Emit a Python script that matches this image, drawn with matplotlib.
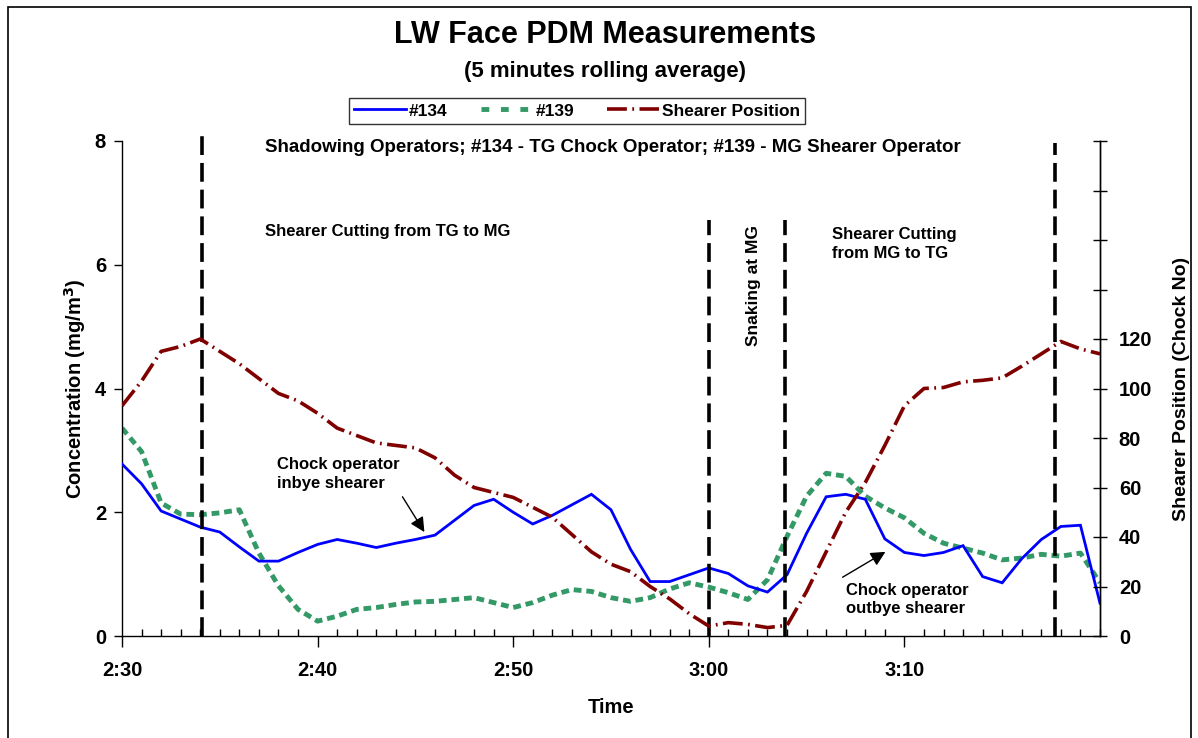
import numpy as np
import matplotlib
matplotlib.use("Agg")
import matplotlib.pyplot as plt
from matplotlib.lines import Line2D
from matplotlib.patches import Rectangle

plt.rcParams['font.family'] = ['Liberation Sans', 'DejaVu Sans']
plt.rcParams['font.weight'] = 'bold'

# minutes after 2:30
minutes = list(range(0, 51))

# PDM #134 - TG chock operator (mg/m3)
pdm_134 = [2.78, 2.46, 2.02, 1.89, 1.76, 1.68, 1.44, 1.21, 1.21, 1.35,
           1.48, 1.56, 1.50, 1.43, 1.50, 1.56, 1.63, 1.87, 2.11, 2.21,
           2.00, 1.81, 1.95, 2.12, 2.29, 2.04, 1.40, 0.88, 0.88, 0.99,
           1.10, 1.01, 0.81, 0.71, 0.99, 1.66, 2.25, 2.29, 2.21, 1.57,
           1.35, 1.30, 1.35, 1.46, 0.96, 0.86, 1.25, 1.56, 1.77, 1.79,
           0.53]

# PDM #139 - MG shearer operator (mg/m3)
pdm_139 = [3.36, 2.98, 2.15, 1.97, 1.96, 1.99, 2.04, 1.34, 0.81, 0.43,
           0.24, 0.32, 0.43, 0.46, 0.51, 0.55, 0.56, 0.59, 0.62, 0.54,
           0.46, 0.54, 0.66, 0.75, 0.72, 0.62, 0.56, 0.62, 0.76, 0.86,
           0.79, 0.70, 0.59, 0.91, 1.61, 2.26, 2.63, 2.58, 2.26, 2.07,
           1.91, 1.66, 1.50, 1.42, 1.34, 1.23, 1.26, 1.32, 1.29, 1.34,
           0.86]

# shearer position (chock no)
shearer = [93, 103, 115, 117, 120, 115, 110, 104, 98, 95,
           90, 84, 81, 78, 77, 76, 72, 65, 60, 58,
           56, 52, 48, 41, 34, 29, 26, 20, 15, 9,
           4, 5.4, 4.7, 3.4, 4.3, 18, 34, 50, 62, 77,
           93, 100, 100.4, 102.7, 103.3, 104.3, 109, 114, 119, 116,
           114]

# phase change markers (minutes) and how high they reach (mg/m3)
phase_times = [4.08, 30.0, 33.9, 47.7]
phase_tops = [8.15, 6.72, 6.72, 7.97]

xtick_pos = [0, 10, 20, 30, 40]
xtick_labels = ['2:30', '2:40', '2:50', '3:00', '3:10']
y2_ticks = list(range(0, 201, 20))
y2_labels = [str(v) if v <= 120 else '' for v in y2_ticks]

fig = plt.figure(figsize=(11.98, 7.38), dpi=100)
ax = fig.add_axes([122 / 1198, 102 / 738, 978 / 1198, 495 / 738])
ax2 = ax.twinx()

ax.plot(minutes, pdm_134, color='#0000ff', lw=2, solid_joinstyle='miter', zorder=3)
ax.plot(minutes, pdm_139, color='#339966', lw=3.5, dashes=(1.6, 1.0), zorder=2)
ax2.plot(minutes, shearer, color='#800000', lw=2.6, dashes=(5.5, 1.5, 0.5, 1.5), zorder=2)

for t, top in zip(phase_times, phase_tops):
    ax.plot([t, t], [0, top], color='black', lw=2.6, dashes=(5.2, 2.2),
            clip_on=False, zorder=4)

ax.set_xlim(0, 50)
ax.set_ylim(0, 8)
ax2.set_ylim(0, 200)

ax.set_xticks(xtick_pos)
ax.set_xticklabels(xtick_labels)
ax.set_xticks(minutes, minor=True)
ax.set_yticks([0, 2, 4, 6, 8])
ax.tick_params(axis='x', which='major', direction='out', length=8, width=1,
               labelsize=14.5, pad=10)
ax.tick_params(axis='x', which='minor', direction='in', length=5, width=1)
ax.tick_params(axis='y', direction='out', length=6, width=1, labelsize=14.5, pad=5.5)
for lab in ax.get_xticklabels() + ax.get_yticklabels():
    lab.set_fontweight('bold')

ax2.set_yticks(y2_ticks)
ax2.set_yticklabels(y2_labels)
ax2.tick_params(axis='y', direction='inout', length=10, width=1, labelsize=14.5, pad=8.5)
for lab in ax2.get_yticklabels():
    lab.set_fontweight('bold')

for a in (ax, ax2):
    a.spines['top'].set_visible(False)
    for s in a.spines.values():
        s.set_linewidth(1)
ax2.spines['left'].set_visible(False)
ax2.spines['bottom'].set_visible(False)

ax.set_xlabel('Time', fontsize=14.5, fontweight='bold', labelpad=13)
ax.set_ylabel('Concentration (mg/m$^\\mathbf{3}$)', fontsize=14.5, fontweight='bold', labelpad=5)
ax2.set_ylabel('Shearer Position (Chock No)', fontsize=14, fontweight='bold', labelpad=15)

fig.text(605 / 1198, 1 - 35 / 738, 'LW Face PDM Measurements', ha='center', va='center',
         fontsize=22, fontweight='bold')
fig.text(605 / 1198, 1 - 72 / 738, '(5 minutes rolling average)', ha='center', va='center',
         fontsize=16, fontweight='bold')

ax.text(7.3, 7.90, 'Shadowing Operators; #134 - TG Chock Operator; #139 - MG Shearer Operator',
        fontsize=13.5, fontweight='bold', va='center', ha='left')
ax.text(7.3, 6.53, 'Shearer Cutting from TG to MG', fontsize=12, fontweight='bold',
        va='center', ha='left')
ax.text(32.3, 5.67, 'Snaking at MG', fontsize=12.5, fontweight='bold', rotation=90,
        va='center', ha='center')
ax.text(36.28, 6.34, 'Shearer Cutting\nfrom MG to TG', fontsize=12, fontweight='bold',
        va='center', ha='left', linespacing=1.35)

ax.text(7.9, 2.62, 'Chock operator\ninbye shearer', fontsize=12, fontweight='bold',
        va='center', ha='left', linespacing=1.3)
ax.text(37.0, 0.59, 'Chock operator\noutbye shearer', fontsize=12, fontweight='bold',
        va='center', ha='left', linespacing=1.3)
arrow_props = dict(arrowstyle='-|>', color='black', lw=1, mutation_scale=22,
                   shrinkA=0, shrinkB=0)
ax.annotate('', xy=(15.46, 1.68), xytext=(14.34, 2.25), arrowprops=arrow_props)
ax.annotate('', xy=(39.03, 1.36), xytext=(36.84, 0.95), arrowprops=arrow_props)

handles = [Line2D([], [], color='#0000ff', lw=2),
           Line2D([], [], color='#339966', lw=3.5, dashes=(1.6, 2.4)),
           Line2D([], [], color='#800000', lw=2.6, dashes=(5.5, 1.5, 0.5, 1.5))]
leg = fig.legend(handles, ['#134', '#139', 'Shearer Position'], loc='center',
                 bbox_to_anchor=(577 / 1198, 1 - 111 / 738), ncol=3, frameon=True,
                 fancybox=False, edgecolor='black', handlelength=3.0, handletextpad=0.15,
                 columnspacing=1.9, borderpad=0.3, prop={'size': 12.5, 'weight': 'bold'})
leg.get_frame().set_linewidth(1)

fig.add_artist(Rectangle((8 / 1198, -0.05), 1183 / 1198, 1.05 - 7 / 738,
                         transform=fig.transFigure, fill=False, edgecolor='black', lw=1.2))

fig.savefig('out.png', dpi=100)
